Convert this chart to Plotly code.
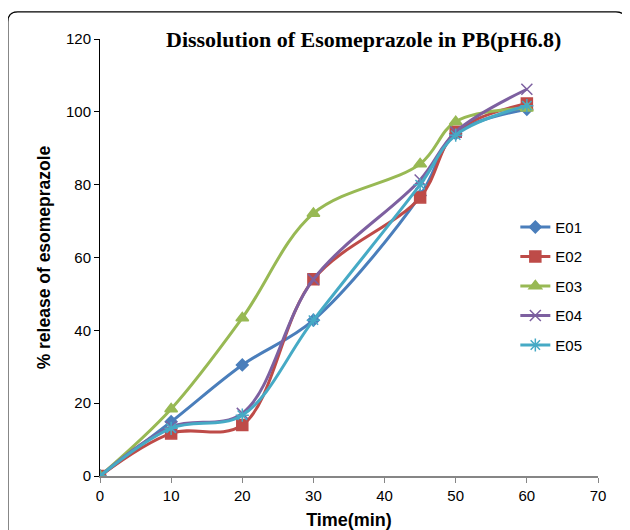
import plotly.graph_objects as go

time_min = [0, 10, 20, 30, 45, 50, 60]
E01 = [0, 14.9, 30.5, 42.8, 77.0, 94.0, 100.7]
E02 = [0, 11.7, 14.0, 54.0, 76.5, 94.5, 102.3]
E03 = [0, 18.4, 43.4, 72.1, 85.7, 97.3, 101.0]
E04 = [0, 13.5, 17.2, 54.0, 81.3, 94.5, 106.2]
E05 = [0, 13.1, 16.7, 42.8, 80.0, 93.6, 101.7]

series_names = ["E01", "E02", "E03", "E04", "E05"]
series_values = [E01, E02, E03, E04, E05]
colors = ["#4A7EBB", "#BE4B48", "#98B954", "#7D60A0", "#46AAC5"]
symbols = ["diamond", "square", "triangle-up", "x-thin-open", "asterisk-open"]
sizes = [9, 11, 11, 11, 11]

fig = go.Figure()
for i, (name, vals) in enumerate(zip(series_names, series_values)):
    fig.add_trace(go.Scatter(
        x=time_min, y=vals, name=name, mode="lines+markers",
        line=dict(color=colors[i], width=3, shape="spline", smoothing=1.0),
        marker=dict(symbol=symbols[i], size=sizes[i], color=colors[i],
                    line=dict(color=colors[i], width=1.5)),
        legendgroup=name,
    ))

fig.update_layout(
    width=622, height=522,
    margin=dict(l=92, r=32, t=31, b=54),
    paper_bgcolor="white", plot_bgcolor="white",
    font=dict(family="Liberation Sans, Arial", size=15, color="black"),
    showlegend=True,
    legend=dict(x=0.834, y=0.607, xanchor="left", yanchor="top",
                font=dict(size=15), tracegroupgap=7, bgcolor="rgba(0,0,0,0)",
                itemwidth=30),
    xaxis=dict(range=[0, 70], dtick=10, showgrid=False, zeroline=False,
               showline=True, linecolor="#868686", linewidth=1.5,
               ticks="outside", ticklen=5, tickcolor="#868686", automargin=False,
               title=dict(text="<b>Time(min)</b>", font=dict(size=18), standoff=11)),
    yaxis=dict(range=[0, 120], dtick=20, showgrid=False, zeroline=False,
               showline=True, linecolor="black", linewidth=1,
               ticks="outside", ticklen=5, tickcolor="black", automargin=False,
               title=dict(text="<b>% release of esomeprazole</b>", font=dict(size=17.5), standoff=10)),
)

fig.add_annotation(
    text="<b>Dissolution of Esomeprazole in PB(pH6.8)</b>",
    xref="paper", yref="paper", x=0.53, y=1.0, xanchor="center", yanchor="middle",
    showarrow=False, font=dict(family="Liberation Serif, Times New Roman", size=22, color="black"),
)

# outer chart border with rounded corners
x0, x1, y0, y1 = -0.185, 1.056, -0.14, 1.062
rx, ry = 0.02, 0.023
path = (f"M {x0},{y0} L {x0},{y1-ry} Q {x0},{y1} {x0+rx},{y1} "
        f"L {x1-rx},{y1} Q {x1},{y1} {x1},{y1-ry} L {x1},{y0}")
fig.add_shape(type="path", path=path, xref="paper", yref="paper",
              line=dict(color="black", width=1.2), layer="below")

fig.write_html("out.html")
